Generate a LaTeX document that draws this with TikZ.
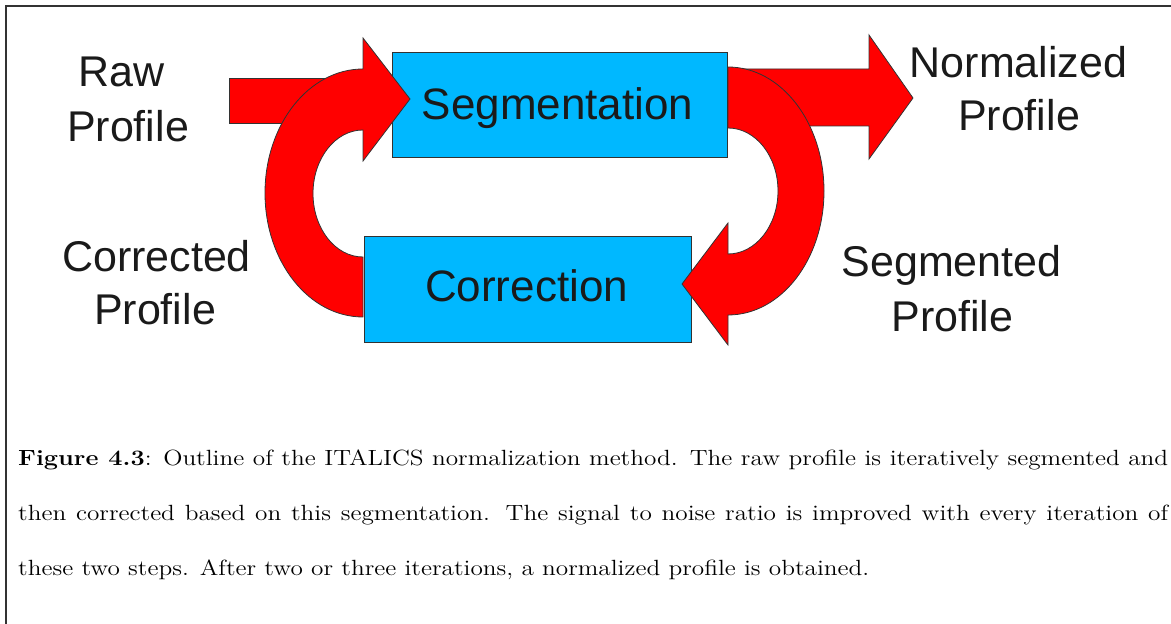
\documentclass[tikz,border=0pt]{standalone}
\usepackage{fontspec}
\newfontfamily\labelfont{Liberation Sans}
\newfontfamily\capfont{lmroman12-regular}[Extension=.otf, FakeStretch=1.148, BoldFont=lmroman12-bold, BoldFeatures={FakeStretch=1.148}]
\definecolor{boxcyan}{RGB}{0,184,255}
\definecolor{arrowred}{RGB}{255,0,0}
\definecolor{textgray}{RGB}{26,26,26}
\definecolor{edgegray}{RGB}{50,50,50}
\begin{document}
\begin{tikzpicture}[x=1pt,y=1pt,
  stepbox/.style={draw=edgegray,line width=0.9pt,fill=boxcyan},
  redarrow/.style={draw=black!80,line width=0.8pt,fill=arrowred,line join=miter},
  lbl/.style={font=\labelfont\fontsize{43}{43}\selectfont,text=textgray,inner sep=0pt,anchor=base},
  boxlbl/.style={font=\labelfont\fontsize{44}{44}\selectfont,text=textgray,inner sep=0pt,anchor=base},
  captext/.style={font=\capfont\fontsize{22}{22}\selectfont,inner sep=0pt,anchor=base west}]
\useasboundingbox (0,0) rectangle (1171,624);
% frame
\draw[line width=1.3pt,draw=black!80] (6,0) -- (6,618) -- (1171,618);
% boxes
\draw[stepbox] (392,467) rectangle (727,572);
\draw[stepbox] (364,282) rectangle (691,388);
% straight arrows
\draw[redarrow] (229,546) -- (363,546) -- (363,501) -- (229,501) -- cycle;
\draw[redarrow] (728,555) -- (869,555) -- (869,589) -- (913,526) -- (869,465) -- (869,498) -- (728,498) -- cycle;
% left curved arrow
\draw[redarrow] (363,307) arc[start angle=270,end angle=90,x radius=98,y radius=124]
  -- (363,586) -- (410,525) -- (363,463) -- (363,494)
  arc[start angle=90,end angle=270,x radius=50,y radius=63.5] -- cycle;
% right curved arrow
\draw[redarrow] (728,557) arc[start angle=90,end angle=-90,x radius=96,y radius=124]
  -- (728,279) -- (682,340) -- (728,401) -- (728,370)
  arc[start angle=-90,end angle=90,x radius=50,y radius=63] -- cycle;
% box texts
\node[boxlbl] (seg) at (557.5,504.5) {Segmentation};
\node[boxlbl] (cor) at (526.5,322) {Correction};
% labels
\node[lbl] (raw1) at (121.5,537) {Raw};
\node[lbl] (raw2) at (128,482) {Profile};
\node[lbl] (nor1) at (1018.5,546) {Normalized};
\node[lbl] (nor2) at (1019,493) {Profile};
\node[lbl] (crd1) at (156.5,352) {Corrected};
\node[lbl] (crd2) at (155,299) {Profile};
\node[lbl] (sgd1) at (951.5,347) {Segmented};
\node[lbl] (sgd2) at (952.5,292) {Profile};
% caption
\node[captext] (cap1) at (18,158) {\makebox[1150pt][s]{\textbf{Figure 4.3}: Outline of the ITALICS normalization method. The raw profile is iteratively segmented and}};
\node[captext] (cap2) at (18,103) {\makebox[1150pt][s]{then corrected based on this segmentation. The signal to noise ratio is improved with every iteration of}};
\node[captext] (cap3) at (18,48) {these two steps. After two or three iterations, a normalized profile is obtained.};
\end{tikzpicture}
\end{document}
